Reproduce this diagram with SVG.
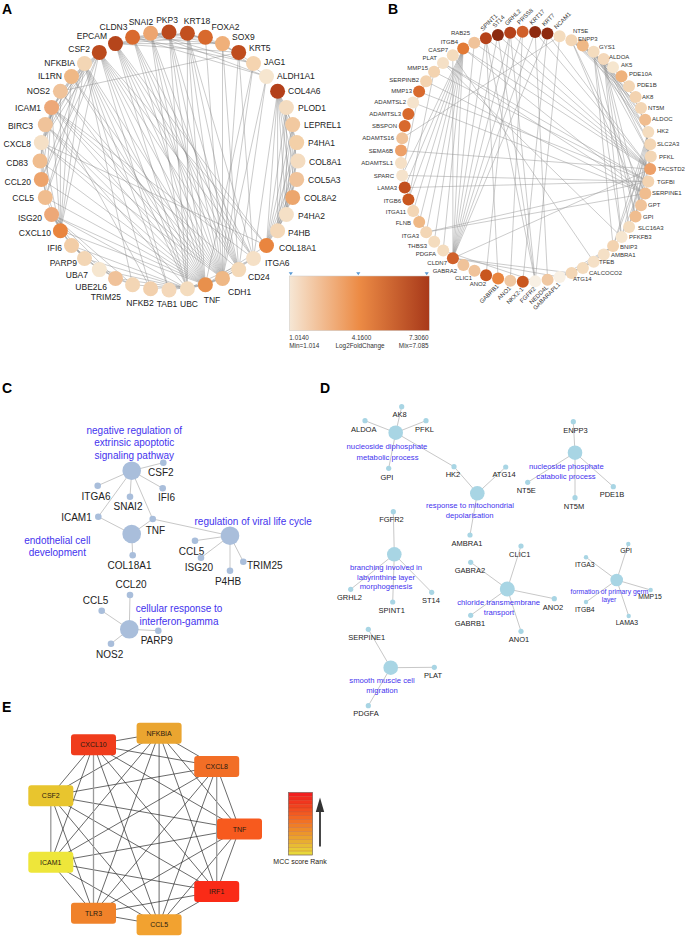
<svg xmlns="http://www.w3.org/2000/svg" width="685" height="937" viewBox="0 0 685 937">
<style>
text{font-family:"Liberation Sans",Arial,sans-serif}
.pl{font-weight:bold;font-size:14px;fill:#000}
.ta{font-size:8.5px;fill:#222}
.tb{font-size:6px;fill:#333}
.ea{stroke:#888;stroke-width:0.55;fill:none;stroke-opacity:0.8}
.eb{stroke:#999;stroke-width:0.5;fill:none}
.ec{stroke:#c8c8c8;stroke-width:1;fill:none}
.ee{stroke:#2a2a2a;stroke-width:0.7}
.eg{stroke:#9a9a9a;stroke-width:1.3}
.tc{font-size:10px;fill:#222}
.termc{font-size:10px;fill:#4433ee}
.td{font-size:7.5px;fill:#222}
.termd{font-size:7.7px;fill:#4433ee}
.tg{font-size:6.8px;fill:#222}
.termg{font-size:6.8px;fill:#4433ee}
.nc{fill:#a9bedb}
.nd{fill:#a8d5e4}
.te{font-size:7px;fill:#2a1a10}
.leg{font-size:6.4px;fill:#333}
</style>
<defs>
<linearGradient id="lfc" x1="0" x2="1" y1="0" y2="0">
<stop offset="0" stop-color="#f6e7d5"/>
<stop offset="0.5" stop-color="#ec8b45"/>
<stop offset="1" stop-color="#a8391a"/>
</linearGradient>
</defs>

<text class="pl" x="2" y="14">A</text>
<text class="pl" x="388" y="14">B</text>
<text class="pl" x="2" y="393">C</text>
<text class="pl" x="320" y="393">D</text>
<text class="pl" x="2" y="712">E</text>

<g id="edges-A" class="ea">
<path d="M205.4 284.8L99.3 52.4M205.4 284.8L84.5 63.5M205.4 284.8L71.5 76.5M205.4 284.8L60.4 91.3M205.4 284.8L51.6 107.5M205.4 284.8L45.3 124.6M205.4 284.8L41.3 142.6M205.4 284.8L40 161M205.4 284.8L41.3 179.4M205.4 284.8L45.3 197.4M205.4 284.8L60.4 230.7M205.4 284.8L51.6 214.5M205.4 284.8L187.4 288.7M205.4 284.8L169 290M205.4 284.8L150.6 288.7M205.4 284.8L222.5 278.4M205.4 284.8L150.6 33.3M205.4 284.8L115.5 43.6M205.4 284.8L132.6 37.2M205.4 284.8L253.5 63.5M205.4 284.8L238.7 269.6M205.4 284.8L253.5 258.5M205.4 284.8L266.5 245.5M205.4 284.8L187.4 33.3M205.4 284.8L169 32"/>
<path d="M222.5 278.4L115.5 43.6M222.5 278.4L132.6 37.2M222.5 278.4L150.6 33.3M222.5 278.4L169 32M222.5 278.4L187.4 33.3M222.5 278.4L205.4 37.2M222.5 278.4L222.5 43.6M222.5 278.4L238.7 52.4M222.5 278.4L253.5 63.5M222.5 278.4L253.5 258.5M222.5 278.4L99.3 52.4M222.5 278.4L84.5 63.5M222.5 278.4L51.6 107.5M222.5 278.4L266.5 76.5M222.5 278.4L187.4 288.7M222.5 278.4L41.3 142.6M222.5 278.4L71.5 76.5M222.5 278.4L60.4 91.3M222.5 278.4L45.3 124.6"/>
<path d="M238.7 269.6L115.5 43.6M238.7 269.6L187.4 33.3M238.7 269.6L222.5 43.6M238.7 269.6L132.6 37.2M238.7 269.6L266.5 76.5M238.7 269.6L51.6 107.5M238.7 269.6L99.3 52.4M238.7 269.6L169 32M238.7 269.6L150.6 33.3"/>
<path d="M187.4 288.7L115.5 278.4M187.4 288.7L99.3 269.6M187.4 288.7L132.6 284.8M187.4 288.7L84.5 258.5M187.4 288.7L84.5 63.5M187.4 288.7L45.3 124.6M187.4 288.7L51.6 214.5M187.4 288.7L115.5 43.6M187.4 288.7L169 32M187.4 288.7L187.4 33.3M187.4 288.7L150.6 33.3M187.4 288.7L99.3 52.4M187.4 288.7L253.5 258.5M187.4 288.7L71.5 245.5"/>
<path d="M253.5 258.5L115.5 43.6M253.5 258.5L99.3 52.4M253.5 258.5L132.6 37.2M253.5 258.5L238.7 52.4M253.5 258.5L277.6 91.3M253.5 258.5L51.6 107.5M253.5 258.5L187.4 33.3"/>
<path d="M99.3 52.4L51.6 107.5M99.3 52.4L41.3 142.6M99.3 52.4L41.3 179.4M99.3 52.4L45.3 197.4M99.3 52.4L60.4 230.7M99.3 52.4L60.4 91.3M99.3 52.4L71.5 76.5M99.3 52.4L45.3 124.6M99.3 52.4L266.5 245.5M99.3 52.4L169 290"/>
<path d="M51.6 107.5L41.3 142.6M51.6 107.5L45.3 197.4M51.6 107.5L41.3 179.4M51.6 107.5L60.4 230.7M51.6 107.5L84.5 63.5M51.6 107.5L71.5 76.5M51.6 107.5L40 161M51.6 107.5L150.6 288.7"/>
<path d="M41.3 142.6L41.3 179.4M41.3 142.6L45.3 197.4M41.3 142.6L60.4 230.7M41.3 142.6L84.5 63.5M41.3 142.6L71.5 76.5M41.3 142.6L60.4 91.3M41.3 142.6L266.5 245.5"/>
<path d="M60.4 230.7L45.3 197.4M60.4 230.7L41.3 179.4M60.4 230.7L51.6 214.5M60.4 230.7L71.5 245.5M60.4 230.7L60.4 91.3M60.4 230.7L71.5 76.5M60.4 230.7L84.5 63.5M60.4 230.7L84.5 258.5"/>
<path d="M84.5 63.5L169 290M84.5 63.5L150.6 288.7M84.5 63.5L45.3 124.6M84.5 63.5L41.3 179.4M84.5 63.5L45.3 197.4M84.5 63.5L132.6 284.8"/>
<path d="M115.5 43.6L187.4 33.3M115.5 43.6L169 32M115.5 43.6L238.7 52.4M115.5 43.6L222.5 43.6M115.5 43.6L205.4 37.2M115.5 43.6L266.5 245.5M187.4 33.3L238.7 52.4M187.4 33.3L132.6 37.2M187.4 33.3L222.5 43.6M222.5 43.6L253.5 63.5M222.5 43.6L266.5 76.5M222.5 43.6L132.6 37.2M222.5 43.6L150.6 33.3M132.6 37.2L253.5 63.5M132.6 37.2L266.5 76.5M132.6 37.2L169 32M150.6 33.3L253.5 63.5M150.6 33.3L266.5 76.5M150.6 33.3L205.4 37.2M60.4 91.3L238.7 52.4"/>
<path d="M277.6 91.3L277.6 230.7M277.6 91.3L286.4 107.5M277.6 91.3L292.7 124.6M277.6 91.3L296.7 142.6M277.6 91.3L298 161M277.6 91.3L296.7 179.4M277.6 91.3L292.7 197.4M277.6 91.3L286.4 214.5M277.6 91.3L266.5 245.5M277.6 230.7L286.4 107.5M277.6 230.7L292.7 124.6M277.6 230.7L296.7 142.6M277.6 230.7L298 161M277.6 230.7L296.7 179.4M277.6 230.7L292.7 197.4M266.5 245.5L298 161M266.5 245.5L296.7 179.4M266.5 245.5L292.7 197.4M266.5 245.5L286.4 107.5M266.5 245.5L292.7 124.6M266.5 245.5L296.7 142.6M266.5 245.5L286.4 214.5M296.7 142.6L286.4 214.5M296.7 142.6L286.4 107.5M286.4 107.5L286.4 214.5M292.7 124.6L286.4 214.5M292.7 124.6L292.7 197.4"/>
<path d="M71.5 245.5L51.6 214.5M71.5 245.5L84.5 258.5M71.5 245.5L99.3 269.6M71.5 245.5L115.5 278.4M51.6 214.5L84.5 258.5M51.6 214.5L115.5 278.4M51.6 214.5L132.6 284.8M84.5 258.5L115.5 278.4M84.5 258.5L99.3 269.6M132.6 284.8L99.3 269.6M132.6 284.8L115.5 278.4"/>
</g>

<g id="nodes-A">
<g id="a-PKP3"><circle cx="169" cy="32" r="7.5" fill="#bb4a1d"/><text class="ta" x="167" y="23" text-anchor="middle">PKP3</text></g>
<g id="a-KRT18"><circle cx="187.4" cy="33.3" r="7.5" fill="#c2501f"/><text class="ta" x="197" y="24" text-anchor="middle">KRT18</text></g>
<g id="a-FOXA2"><circle cx="205.4" cy="37.2" r="7.5" fill="#d8692d"/><text class="ta" x="225.5" y="30" text-anchor="middle">FOXA2</text></g>
<g id="a-SOX9"><circle cx="222.5" cy="43.6" r="7.5" fill="#f0b07a"/><text class="ta" x="232" y="40">SOX9</text></g>
<g id="a-KRT5"><circle cx="238.7" cy="52.4" r="7.5" fill="#bf4c1e"/><text class="ta" x="249" y="51">KRT5</text></g>
<g id="a-JAG1"><circle cx="253.5" cy="63.5" r="7.5" fill="#f5d4b0"/><text class="ta" x="264" y="65">JAG1</text></g>
<g id="a-ALDH1A1"><circle cx="266.5" cy="76.5" r="7.5" fill="#f6e6cf"/><text class="ta" x="277" y="79">ALDH1A1</text></g>
<g id="a-COL4A6"><circle cx="277.6" cy="91.3" r="7.5" fill="#b3401a"/><text class="ta" x="288" y="94">COL4A6</text></g>
<g id="a-PLOD1"><circle cx="286.4" cy="107.5" r="7.5" fill="#f4dcc0"/><text class="ta" x="298" y="111">PLOD1</text></g>
<g id="a-LEPREL1"><circle cx="292.7" cy="124.6" r="7.5" fill="#f2c9a0"/><text class="ta" x="304" y="128">LEPREL1</text></g>
<g id="a-P4HA1"><circle cx="296.7" cy="142.6" r="7.5" fill="#f3d0a8"/><text class="ta" x="308" y="146">P4HA1</text></g>
<g id="a-COL8A1"><circle cx="298" cy="161" r="7.5" fill="#f4dcc0"/><text class="ta" x="309" y="164.5">COL8A1</text></g>
<g id="a-COL5A3"><circle cx="296.7" cy="179.4" r="7.5" fill="#f0c39a"/><text class="ta" x="308" y="183">COL5A3</text></g>
<g id="a-COL8A2"><circle cx="292.7" cy="197.4" r="7.5" fill="#eca66d"/><text class="ta" x="304" y="201">COL8A2</text></g>
<g id="a-P4HA2"><circle cx="286.4" cy="214.5" r="7.5" fill="#f5e0c6"/><text class="ta" x="298" y="218.5">P4HA2</text></g>
<g id="a-P4HB"><circle cx="277.6" cy="230.7" r="7.5" fill="#f4d8b8"/><text class="ta" x="288" y="236">P4HB</text></g>
<g id="a-COL18A1"><circle cx="266.5" cy="245.5" r="7.5" fill="#e9853f"/><text class="ta" x="279" y="250.5">COL18A1</text></g>
<g id="a-ITGA6"><circle cx="253.5" cy="258.5" r="7.5" fill="#f5e0c6"/><text class="ta" x="265" y="265.5">ITGA6</text></g>
<g id="a-CD24"><circle cx="238.7" cy="269.6" r="7.5" fill="#f4d9b8"/><text class="ta" x="248" y="280">CD24</text></g>
<g id="a-CDH1"><circle cx="222.5" cy="278.4" r="7.5" fill="#efb885"/><text class="ta" x="228" y="295">CDH1</text></g>
<g id="a-TNF"><circle cx="205.4" cy="284.8" r="7.5" fill="#e8904c"/><text class="ta" x="212" y="303" text-anchor="middle">TNF</text></g>
<g id="a-UBC"><circle cx="187.4" cy="288.7" r="7.5" fill="#f4dcbe"/><text class="ta" x="189" y="307" text-anchor="middle">UBC</text></g>
<g id="a-TAB1"><circle cx="169" cy="290" r="7.5" fill="#f4d8ba"/><text class="ta" x="167" y="307" text-anchor="middle">TAB1</text></g>
<g id="a-NFKB2"><circle cx="150.6" cy="288.7" r="7.5" fill="#f2d0ad"/><text class="ta" x="140" y="306" text-anchor="middle">NFKB2</text></g>
<g id="a-TRIM25"><circle cx="132.6" cy="284.8" r="7.5" fill="#f3d6b5"/><text class="ta" x="121" y="300" text-anchor="end">TRIM25</text></g>
<g id="a-UBE2L6"><circle cx="115.5" cy="278.4" r="7.5" fill="#f0c29a"/><text class="ta" x="107" y="290" text-anchor="end">UBE2L6</text></g>
<g id="a-UBA7"><circle cx="99.3" cy="269.6" r="7.5" fill="#f6e6cf"/><text class="ta" x="88" y="278" text-anchor="end">UBA7</text></g>
<g id="a-PARP9"><circle cx="84.5" cy="258.5" r="7.5" fill="#f3d6b5"/><text class="ta" x="77" y="266" text-anchor="end">PARP9</text></g>
<g id="a-IFI6"><circle cx="71.5" cy="245.5" r="7.5" fill="#f2cda6"/><text class="ta" x="62" y="251" text-anchor="end">IFI6</text></g>
<g id="a-CXCL10"><circle cx="60.4" cy="230.7" r="7.5" fill="#e9853f"/><text class="ta" x="51" y="236" text-anchor="end">CXCL10</text></g>
<g id="a-ISG20"><circle cx="51.6" cy="214.5" r="7.5" fill="#eda878"/><text class="ta" x="42" y="221" text-anchor="end">ISG20</text></g>
<g id="a-CCL5"><circle cx="45.3" cy="197.4" r="7.5" fill="#f0bd8f"/><text class="ta" x="34" y="201" text-anchor="end">CCL5</text></g>
<g id="a-CCL20"><circle cx="41.3" cy="179.4" r="7.5" fill="#eda46c"/><text class="ta" x="31" y="185" text-anchor="end">CCL20</text></g>
<g id="a-CD83"><circle cx="40" cy="161" r="7.5" fill="#f0bd8f"/><text class="ta" x="28" y="166" text-anchor="end">CD83</text></g>
<g id="a-CXCL8"><circle cx="41.3" cy="142.6" r="7.5" fill="#f5e0c6"/><text class="ta" x="31" y="147" text-anchor="end">CXCL8</text></g>
<g id="a-BIRC3"><circle cx="45.3" cy="124.6" r="7.5" fill="#f0c39a"/><text class="ta" x="33" y="129" text-anchor="end">BIRC3</text></g>
<g id="a-ICAM1"><circle cx="51.6" cy="107.5" r="7.5" fill="#eda878"/><text class="ta" x="41" y="111" text-anchor="end">ICAM1</text></g>
<g id="a-NOS2"><circle cx="60.4" cy="91.3" r="7.5" fill="#f0c39a"/><text class="ta" x="50" y="94" text-anchor="end">NOS2</text></g>
<g id="a-IL1RN"><circle cx="71.5" cy="76.5" r="7.5" fill="#efb885"/><text class="ta" x="62" y="79" text-anchor="end">IL1RN</text></g>
<g id="a-NFKBIA"><circle cx="84.5" cy="63.5" r="7.5" fill="#f3d6b5"/><text class="ta" x="75" y="66" text-anchor="end">NFKBIA</text></g>
<g id="a-CSF2"><circle cx="99.3" cy="52.4" r="7.5" fill="#bb4a1d"/><text class="ta" x="90" y="52" text-anchor="end">CSF2</text></g>
<g id="a-EPCAM"><circle cx="115.5" cy="43.6" r="7.5" fill="#b5451b"/><text class="ta" x="107" y="39" text-anchor="end">EPCAM</text></g>
<g id="a-CLDN3"><circle cx="132.6" cy="37.2" r="7.5" fill="#d96a2e"/><text class="ta" x="113.5" y="30" text-anchor="middle">CLDN3</text></g>
<g id="a-SNAI2"><circle cx="150.6" cy="33.3" r="7.5" fill="#eda56f"/><text class="ta" x="141" y="25" text-anchor="middle">SNAI2</text></g>
</g>

<g id="edges-B" class="eb">
<path d="M463.2 48.5L426.2 232.2M463.2 48.5L404.7 187.6M463.2 48.5L408.4 199.5M463.2 48.5L419.2 222M463.2 48.5L434.2 241.8M463.2 48.5L452.9 258.2M463.2 48.5L413.2 211M463.2 48.5L650.2 169.1M463.2 48.5L443.2 250.5M463.2 48.5L402.2 175.4M463.2 48.5L645.3 193.5"/>
<path d="M452.9 258.2L485.9 38.2M452.9 258.2L497.9 34.9M452.9 258.2L510.2 32.7M452.9 258.2L522.6 31.7M452.9 258.2L535.1 32M452.9 258.2L547.4 33.6M452.9 258.2L474.3 42.8M452.9 258.2L650.2 169.1M452.9 258.2L452.8 55.3M452.9 258.2L559.7 277M452.9 258.2L571.6 273"/>
<path d="M650.2 169.1L485.9 38.2M650.2 169.1L497.9 34.9M650.2 169.1L510.2 32.7M650.2 169.1L547.4 33.6M650.2 169.1L535.1 32M650.2 169.1L474.3 42.8"/>
<path d="M535.2 281.3L510.2 32.7M535.2 281.3L497.9 34.9M535.2 281.3L485.9 38.2M535.2 281.3L443.2 250.5M535.2 281.3L559.6 36.3M522.8 281.7L547.4 33.6M510.3 280.7L522.6 31.7M547.6 279.8L535.1 32M498.1 278.6L485.9 38.2M486.1 275.2L510.2 32.7"/>
<path d="M402.2 175.4L648.3 181.4M402.2 175.4L419.1 91.6M426.2 232.2L648.3 181.4M426.2 232.2L645.3 193.5M426.2 232.2L404.7 187.6M443 63L645.3 193.5M443 63L426.1 81.3M443 63L419.1 91.6M443 63L648.3 181.4M426.1 81.3L645.3 193.5M419.1 91.6L648.3 181.4M434.1 71.7L648.3 181.4M434.1 71.7L408.4 199.5M559.6 36.3L402.2 138.2M621.6 237L443 63M452.8 55.3L593.7 261.7M645.3 193.5L648.3 181.4M413.1 102.5L645.3 193.5M401 150.5L650.2 169.1M404.7 187.6L648.3 181.4"/>
<path d="M603.7 58.9L648.3 131.9M603.7 58.9L650.8 156.6M603.7 58.9L635.6 216.4M603.7 58.9L645.2 119.8M603.7 58.9L650.2 144.2M603.7 58.9L621.6 237M603.7 58.9L641 205.2M603.7 58.9L629.1 227.1M593.6 51.7L648.3 131.9M593.6 51.7L650.8 156.6M593.6 51.7L635.6 216.4M593.6 51.7L645.2 119.8M593.6 51.7L621.6 237M593.6 51.7L650.2 144.2M593.6 51.7L613.1 246.1"/>
<path d="M582.8 45.4L571.4 40.3M582.8 45.4L629 86.2M582.8 45.4L621.5 76.3M582.8 45.4L641 108.1M582.8 45.4L613 67.2M582.8 45.4L635.6 96.9M582.8 45.4L648.3 131.9M571.4 40.3L641 108.1M571.4 40.3L629 86.2M571.4 40.3L613 67.2M571.4 40.3L635.6 96.9M571.4 40.3L641 205.2M571.4 40.3L645.3 193.5"/>
<path d="M648.3 131.9L635.6 216.4M648.3 131.9L621.6 237M648.3 131.9L629.1 227.1M648.3 131.9L613.1 246.1M648.3 131.9L641 205.2M650.8 156.6L635.6 216.4M650.8 156.6L621.6 237M650.8 156.6L641 205.2M650.2 144.2L635.6 216.4M650.2 144.2L629.1 227.1M650.2 144.2L613.1 246.1"/>
<path d="M613.1 246.1L603.8 254.4M613.1 246.1L593.7 261.7M613.1 246.1L582.9 267.9M613.1 246.1L571.6 273M613.1 246.1L559.7 277M613.1 246.1L629.1 227.1M571.6 273L603.8 254.4M571.6 273L593.7 261.7M571.6 273L559.7 277M593.7 261.7L559.7 277M593.7 261.7L582.9 267.9"/>
</g>

<g id="nodes-B">
<g id="b-SPINT1"><circle cx="485.9" cy="38.2" r="6" fill="#b5421a"/><text class="tb" x="482.9" y="31.2" transform="rotate(-45 482.9 31.2)">SPINT1</text></g>
<g id="b-ST14"><circle cx="497.9" cy="34.9" r="6" fill="#8b2a10"/><text class="tb" x="494.9" y="27.9" transform="rotate(-45 494.9 27.9)">ST14</text></g>
<g id="b-GRHL2"><circle cx="510.2" cy="32.7" r="6" fill="#b5421a"/><text class="tb" x="507.2" y="25.7" transform="rotate(-45 507.2 25.7)">GRHL2</text></g>
<g id="b-PRSS8"><circle cx="522.6" cy="31.7" r="6" fill="#d0602a"/><text class="tb" x="519.6" y="24.7" transform="rotate(-45 519.6 24.7)">PRSS8</text></g>
<g id="b-KRT17"><circle cx="535.1" cy="32" r="6" fill="#8e2a10"/><text class="tb" x="532.1" y="25" transform="rotate(-45 532.1 25)">KRT17</text></g>
<g id="b-KRT7"><circle cx="547.4" cy="33.6" r="6" fill="#8e2a10"/><text class="tb" x="544.4" y="26.6" transform="rotate(-45 544.4 26.6)">KRT7</text></g>
<g id="b-NCAM1"><circle cx="559.6" cy="36.3" r="6" fill="#f4dcbe"/><text class="tb" x="556.6" y="29.3" transform="rotate(-45 556.6 29.3)">NCAM1</text></g>
<g id="b-NT5E"><circle cx="571.4" cy="40.3" r="6" fill="#f3d6b5"/><text class="tb" x="573" y="33">NT5E</text></g>
<g id="b-ENPP3"><circle cx="582.8" cy="45.4" r="6" fill="#efb885"/><text class="tb" x="578" y="40.5">ENPP3</text></g>
<g id="b-GYS1"><circle cx="593.6" cy="51.7" r="6" fill="#f4dcbe"/><text class="tb" x="599" y="49">GYS1</text></g>
<g id="b-ALDOA"><circle cx="603.7" cy="58.9" r="6" fill="#f4d8ba"/><text class="tb" x="609" y="59">ALDOA</text></g>
<g id="b-AK5"><circle cx="613" cy="67.2" r="6" fill="#f6e6cf"/><text class="tb" x="621" y="67">AK5</text></g>
<g id="b-PDE10A"><circle cx="621.5" cy="76.3" r="6" fill="#efb27c"/><text class="tb" x="629" y="76">PDE10A</text></g>
<g id="b-PDE1B"><circle cx="629" cy="86.2" r="6" fill="#f3d6b5"/><text class="tb" x="637" y="87">PDE1B</text></g>
<g id="b-AK8"><circle cx="635.6" cy="96.9" r="6" fill="#f3d3b0"/><text class="tb" x="642" y="99">AK8</text></g>
<g id="b-NT5M"><circle cx="641" cy="108.1" r="6" fill="#f3d6b5"/><text class="tb" x="648" y="109.5">NT5M</text></g>
<g id="b-ALDOC"><circle cx="645.2" cy="119.8" r="6" fill="#f0bd8f"/><text class="tb" x="652" y="121">ALDOC</text></g>
<g id="b-HK2"><circle cx="648.3" cy="131.9" r="6" fill="#f4dcbe"/><text class="tb" x="657" y="133">HK2</text></g>
<g id="b-SLC2A3"><circle cx="650.2" cy="144.2" r="6" fill="#f3d6b5"/><text class="tb" x="657" y="146">SLC2A3</text></g>
<g id="b-PFKL"><circle cx="650.8" cy="156.6" r="6" fill="#f3d6b5"/><text class="tb" x="659" y="159">PFKL</text></g>
<g id="b-TACSTD2"><circle cx="650.2" cy="169.1" r="6" fill="#eda068"/><text class="tb" x="658" y="171">TACSTD2</text></g>
<g id="b-TGFBI"><circle cx="648.3" cy="181.4" r="6" fill="#f3d3b0"/><text class="tb" x="657" y="184">TGFBI</text></g>
<g id="b-SERPINE1"><circle cx="645.3" cy="193.5" r="6" fill="#f0bd8f"/><text class="tb" x="652" y="195">SERPINE1</text></g>
<g id="b-GPT"><circle cx="641" cy="205.2" r="6" fill="#f0c39a"/><text class="tb" x="648" y="207">GPT</text></g>
<g id="b-GPI"><circle cx="635.6" cy="216.4" r="6" fill="#f0bd8f"/><text class="tb" x="643" y="219">GPI</text></g>
<g id="b-SLC16A3"><circle cx="629.1" cy="227.1" r="6" fill="#f4dcbe"/><text class="tb" x="638" y="230">SLC16A3</text></g>
<g id="b-PFKFB3"><circle cx="621.6" cy="237" r="6" fill="#f6e6cf"/><text class="tb" x="629" y="239">PFKFB3</text></g>
<g id="b-BNIP3"><circle cx="613.1" cy="246.1" r="6" fill="#f3d3b0"/><text class="tb" x="620" y="249">BNIP3</text></g>
<g id="b-AMBRA1"><circle cx="603.8" cy="254.4" r="6" fill="#f5e0c6"/><text class="tb" x="611" y="257">AMBRA1</text></g>
<g id="b-TFEB"><circle cx="593.7" cy="261.7" r="6" fill="#f5e0c6"/><text class="tb" x="599" y="264">TFEB</text></g>
<g id="b-CALCOCO2"><circle cx="582.9" cy="267.9" r="6" fill="#f4dcbe"/><text class="tb" x="589" y="275">CALCOCO2</text></g>
<g id="b-ATG14"><circle cx="571.6" cy="273" r="6" fill="#f3d6b5"/><text class="tb" x="573" y="281">ATG14</text></g>
<g id="b-GABARAPL1"><circle cx="559.7" cy="277" r="6" fill="#f8f0e4"/><text class="tb" x="560.7" y="285" text-anchor="end" transform="rotate(-45 560.7 285)">GABARAPL1</text></g>
<g id="b-NEDD4L"><circle cx="547.6" cy="279.8" r="6" fill="#f0c8a2"/><text class="tb" x="548.6" y="287.8" text-anchor="end" transform="rotate(-45 548.6 287.8)">NEDD4L</text></g>
<g id="b-FGFR2"><circle cx="535.2" cy="281.3" r="6" fill="#f8f0e4"/><text class="tb" x="536.2" y="289.3" text-anchor="end" transform="rotate(-45 536.2 289.3)">FGFR2</text></g>
<g id="b-NKX2-1"><circle cx="522.8" cy="281.7" r="6" fill="#c9571f"/><text class="tb" x="523.8" y="289.7" text-anchor="end" transform="rotate(-45 523.8 289.7)">NKX2-1</text></g>
<g id="b-ANO1"><circle cx="510.3" cy="280.7" r="6" fill="#f0c8a2"/><text class="tb" x="511.3" y="288.7" text-anchor="end" transform="rotate(-45 511.3 288.7)">ANO1</text></g>
<g id="b-GABRB1"><circle cx="498.1" cy="278.6" r="6" fill="#e9853f"/><text class="tb" x="499.1" y="286.6" text-anchor="end" transform="rotate(-45 499.1 286.6)">GABRB1</text></g>
<g id="b-ANO2"><circle cx="486.1" cy="275.2" r="6" fill="#c9571f"/><text class="tb" x="486" y="286" text-anchor="end">ANO2</text></g>
<g id="b-CLIC1"><circle cx="474.5" cy="270.7" r="6" fill="#f0c39a"/><text class="tb" x="472" y="280" text-anchor="end">CLIC1</text></g>
<g id="b-GABRA2"><circle cx="463.4" cy="265" r="6" fill="#f0c39a"/><text class="tb" x="457" y="273" text-anchor="end">GABRA2</text></g>
<g id="b-CLDN7"><circle cx="452.9" cy="258.2" r="6" fill="#d0602a"/><text class="tb" x="447" y="265" text-anchor="end">CLDN7</text></g>
<g id="b-PDGFA"><circle cx="443.2" cy="250.5" r="6" fill="#f4dcbe"/><text class="tb" x="436" y="256" text-anchor="end">PDGFA</text></g>
<g id="b-THBS3"><circle cx="434.2" cy="241.8" r="6" fill="#f4dcbe"/><text class="tb" x="427" y="248" text-anchor="end">THBS3</text></g>
<g id="b-ITGA3"><circle cx="426.2" cy="232.2" r="6" fill="#f3d6b5"/><text class="tb" x="419" y="238" text-anchor="end">ITGA3</text></g>
<g id="b-FLNB"><circle cx="419.2" cy="222" r="6" fill="#efb885"/><text class="tb" x="411" y="225" text-anchor="end">FLNB</text></g>
<g id="b-ITGA11"><circle cx="413.2" cy="211" r="6" fill="#f3d6b5"/><text class="tb" x="406" y="214" text-anchor="end">ITGA11</text></g>
<g id="b-ITGB6"><circle cx="408.4" cy="199.5" r="6" fill="#c9571f"/><text class="tb" x="401" y="203" text-anchor="end">ITGB6</text></g>
<g id="b-LAMA3"><circle cx="404.7" cy="187.6" r="6" fill="#c2501f"/><text class="tb" x="397" y="190" text-anchor="end">LAMA3</text></g>
<g id="b-SPARC"><circle cx="402.2" cy="175.4" r="6" fill="#f5e3cc"/><text class="tb" x="394" y="177.5" text-anchor="end">SPARC</text></g>
<g id="b-ADAMTSL1"><circle cx="401" cy="163" r="6" fill="#f5e0c6"/><text class="tb" x="393" y="165" text-anchor="end">ADAMTSL1</text></g>
<g id="b-SEMA6B"><circle cx="401" cy="150.5" r="6" fill="#eda068"/><text class="tb" x="393" y="152.5" text-anchor="end">SEMA6B</text></g>
<g id="b-ADAMTS16"><circle cx="402.2" cy="138.2" r="6" fill="#f0c39a"/><text class="tb" x="394" y="140" text-anchor="end">ADAMTS16</text></g>
<g id="b-SBSPON"><circle cx="404.7" cy="125.9" r="6" fill="#d8692d"/><text class="tb" x="397" y="128" text-anchor="end">SBSPON</text></g>
<g id="b-ADAMTSL3"><circle cx="408.3" cy="114" r="6" fill="#d8692d"/><text class="tb" x="401" y="115.5" text-anchor="end">ADAMTSL3</text></g>
<g id="b-ADAMTSL2"><circle cx="413.1" cy="102.5" r="6" fill="#f5e3cc"/><text class="tb" x="406" y="104" text-anchor="end">ADAMTSL2</text></g>
<g id="b-MMP13"><circle cx="419.1" cy="91.6" r="6" fill="#d8692d"/><text class="tb" x="412" y="93" text-anchor="end">MMP13</text></g>
<g id="b-SERPINB2"><circle cx="426.1" cy="81.3" r="6" fill="#f3d3b0"/><text class="tb" x="419" y="82" text-anchor="end">SERPINB2</text></g>
<g id="b-MMP15"><circle cx="434.1" cy="71.7" r="6" fill="#f3d3b0"/><text class="tb" x="428" y="70" text-anchor="end">MMP15</text></g>
<g id="b-PLAT"><circle cx="443" cy="63" r="6" fill="#f5e0c6"/><text class="tb" x="437" y="60" text-anchor="end">PLAT</text></g>
<g id="b-CASP7"><circle cx="452.8" cy="55.3" r="6" fill="#f4dcbe"/><text class="tb" x="448" y="52" text-anchor="end">CASP7</text></g>
<g id="b-ITGB4"><circle cx="463.2" cy="48.5" r="6" fill="#e27a35"/><text class="tb" x="458" y="44" text-anchor="end">ITGB4</text></g>
<g id="b-RAB25"><circle cx="474.3" cy="42.8" r="6" fill="#f0c39a"/><text class="tb" x="470" y="35" text-anchor="end">RAB25</text></g>
</g>

<g id="legend-B">
<rect x="289.3" y="276" width="140" height="54.7" fill="url(#lfc)" stroke="#ccc" stroke-width="0.5"/>
<path d="M288.7 272.3h4.2l-2.1 3z M356.2 272.3h4.2l-2.1 3z M424.6 272.3h4.2l-2.1 3z" fill="#5b9bd5"/>
<text class="leg" x="289.3" y="339.5">1.0140</text>
<text class="leg" x="361.5" y="339.5" text-anchor="middle">4.1600</text>
<text class="leg" x="428.5" y="339.5" text-anchor="end">7.3060</text>
<text class="leg" x="289.3" y="348">Min=1.014</text>
<text class="leg" x="360" y="348" text-anchor="middle">Log2FoldChange</text>
<text class="leg" x="428.5" y="348" text-anchor="end">Mix=7.085</text>
</g>

<g id="edges-C" class="ec">
<path d="M131.7 470.7L163.3 462.7M131.7 470.7L97.7 485.7M131.7 470.7L130 496.7M131.7 470.7L162.7 488.3M131.7 470.7L98.3 516.7M131.7 470.7L152.7 519M131.7 534L98.3 516.7M131.7 534L152.7 519M131.7 534L132.7 555.3M230 535.7L152.7 519M230 535.7L195 540.7M230 535.7L201 557.7M230 535.7L243.3 561.7M230 535.7L230 570.7M129.3 629.3L130 595M129.3 629.3L101.7 610.7M129.3 629.3L158.3 630.7M129.3 629.3L111 643.7"/>
</g>
<g id="nodes-C">
<g id="c-apoptotic"><circle class="nc" cx="131.7" cy="470.7" r="9.3"/><text class="termc" text-anchor="middle"><tspan x="134.3" y="434">negative regulation of</tspan><tspan x="134.3" y="446.3">extrinsic apoptotic</tspan><tspan x="134.3" y="458.7">signaling pathway</tspan></text></g>
<g id="c-CSF2"><circle class="nc" cx="163.3" cy="462.7" r="3.3"/><text class="tc" x="148" y="476">CSF2</text></g>
<g id="c-ITGA6"><circle class="nc" cx="97.7" cy="485.7" r="3.3"/><text class="tc" x="96" y="499.5" text-anchor="middle">ITGA6</text></g>
<g id="c-SNAI2"><circle class="nc" cx="130" cy="496.7" r="3.3"/><text class="tc" x="128" y="510" text-anchor="middle">SNAI2</text></g>
<g id="c-IFI6"><circle class="nc" cx="162.7" cy="488.3" r="3.3"/><text class="tc" x="166.5" y="501" text-anchor="middle">IFI6</text></g>
<g id="c-ICAM1"><circle class="nc" cx="98.3" cy="516.7" r="3.3"/><text class="tc" x="91.7" y="521" text-anchor="end">ICAM1</text></g>
<g id="c-TNF"><circle class="nc" cx="152.7" cy="519" r="3.3"/><text class="tc" x="145.7" y="534">TNF</text></g>
<g id="c-endothelial"><circle class="nc" cx="131.7" cy="534" r="9.3"/><text class="termc" text-anchor="middle"><tspan x="57.3" y="543.5">endothelial cell</tspan><tspan x="57.3" y="556">development</tspan></text></g>
<g id="c-COL18A1"><circle class="nc" cx="132.7" cy="555.3" r="3.3"/><text class="tc" x="129.5" y="568.5" text-anchor="middle">COL18A1</text></g>
<g id="c-viral"><circle class="nc" cx="230" cy="535.7" r="9.3"/><text class="termc" x="194.5" y="524.5">regulation of viral life cycle</text></g>
<g id="c-CCL5a"><circle class="nc" cx="195" cy="540.7" r="3.3"/><text class="tc" x="191.5" y="555" text-anchor="middle">CCL5</text></g>
<g id="c-ISG20"><circle class="nc" cx="201" cy="557.7" r="3.3"/><text class="tc" x="199" y="571" text-anchor="middle">ISG20</text></g>
<g id="c-TRIM25"><circle class="nc" cx="243.3" cy="561.7" r="3.3"/><text class="tc" x="247" y="568.5">TRIM25</text></g>
<g id="c-P4HB"><circle class="nc" cx="230" cy="570.7" r="3.3"/><text class="tc" x="228" y="584.5" text-anchor="middle">P4HB</text></g>
<g id="c-interferon"><circle class="nc" cx="129.3" cy="629.3" r="9.3"/><text class="termc" text-anchor="middle"><tspan x="179" y="612">cellular response to</tspan><tspan x="179" y="624.5">interferon-gamma</tspan></text></g>
<g id="c-CCL20"><circle class="nc" cx="130" cy="595" r="3.3"/><text class="tc" x="131" y="588" text-anchor="middle">CCL20</text></g>
<g id="c-CCL5b"><circle class="nc" cx="101.7" cy="610.7" r="3.3"/><text class="tc" x="95.5" y="603.5" text-anchor="middle">CCL5</text></g>
<g id="c-PARP9"><circle class="nc" cx="158.3" cy="630.7" r="3.3"/><text class="tc" x="156.7" y="644" text-anchor="middle">PARP9</text></g>
<g id="c-NOS2"><circle class="nc" cx="111" cy="643.7" r="3.3"/><text class="tc" x="109.7" y="658" text-anchor="middle">NOS2</text></g>
</g>

<g id="edges-D" class="ec">
<path d="M395.7 432.7L401.7 406.7M395.7 432.7L365 420.7M395.7 432.7L426 420.7M395.7 432.7L388.7 468.3M395.7 432.7L454 466.7M477.3 493.3L454 466.7M477.3 493.3L505.7 467M477.3 493.3L470 535M575 452.7L573.3 421.7M575 452.7L527.7 482.3M575 452.7L575 497.7M575 452.7L613.3 486.7M394.3 554.3L393.3 511.7M394.3 554.3L350.7 589.3M394.3 554.3L392.7 602M394.3 554.3L431.7 592.3M507.3 589L521 546M507.3 589L470.7 562.3M507.3 589L554.3 598.7M507.3 589L470.7 615.3M507.3 589L521 631.3M616.7 580L628.3 544M616.7 580L586 557.3M616.7 580L650.7 590M616.7 580L586 602M616.7 580L628.7 616M390.7 667.7L368.3 629.3M390.7 667.7L434.3 667.3M390.7 667.7L368.3 705.7"/>
</g>
<g id="nodes-D">
<g id="d-diphosphate"><circle class="nd" cx="395.7" cy="432.7" r="7.3"/><text class="termd" text-anchor="middle"><tspan x="387" y="448.5">nucleoside diphosphate</tspan><tspan x="387.5" y="459.5">metabolic process</tspan></text></g>
<g id="d-AK8"><circle class="nd" cx="401.7" cy="406.7" r="2.6"/><text class="td" x="399.5" y="417" text-anchor="middle">AK8</text></g>
<g id="d-ALDOA"><circle class="nd" cx="365" cy="420.7" r="2.6"/><text class="td" x="363.7" y="432" text-anchor="middle">ALDOA</text></g>
<g id="d-PFKL"><circle class="nd" cx="426" cy="420.7" r="2.6"/><text class="td" x="424.5" y="432" text-anchor="middle">PFKL</text></g>
<g id="d-GPIa"><circle class="nd" cx="388.7" cy="468.3" r="2.6"/><text class="td" x="387" y="479.5" text-anchor="middle">GPI</text></g>
<g id="d-HK2"><circle class="nd" cx="454" cy="466.7" r="2.6"/><text class="td" x="453" y="477" text-anchor="middle">HK2</text></g>
<g id="d-mito"><circle class="nd" cx="477.3" cy="493.3" r="7.3"/><text class="termd" text-anchor="middle"><tspan x="470" y="508">response to mitochondrial</tspan><tspan x="469.7" y="517.5">depolarisation</tspan></text></g>
<g id="d-ATG14"><circle class="nd" cx="505.7" cy="467" r="2.6"/><text class="td" x="504" y="477" text-anchor="middle">ATG14</text></g>
<g id="d-AMBRA1"><circle class="nd" cx="470" cy="535" r="2.6"/><text class="td" x="467" y="545.5" text-anchor="middle">AMBRA1</text></g>
<g id="d-catabolic"><circle class="nd" cx="575" cy="452.7" r="7.3"/><text class="termd" text-anchor="middle"><tspan x="566.3" y="468.5">nucleoside phosphate</tspan><tspan x="566" y="478.5">catabolic process</tspan></text></g>
<g id="d-ENPP3"><circle class="nd" cx="573.3" cy="421.7" r="2.6"/><text class="td" x="575.5" y="433" text-anchor="middle">ENPP3</text></g>
<g id="d-NT5E"><circle class="nd" cx="527.7" cy="482.3" r="2.6"/><text class="td" x="526.3" y="493" text-anchor="middle">NT5E</text></g>
<g id="d-NT5M"><circle class="nd" cx="575" cy="497.7" r="2.6"/><text class="td" x="574" y="508.5" text-anchor="middle">NT5M</text></g>
<g id="d-PDE1B"><circle class="nd" cx="613.3" cy="486.7" r="2.6"/><text class="td" x="612" y="497" text-anchor="middle">PDE1B</text></g>
<g id="d-branching"><circle class="nd" cx="394.3" cy="554.3" r="7.3"/><text class="termd" text-anchor="middle"><tspan x="386" y="569.5">branching involved in</tspan><tspan x="386" y="579.5">labyrinthine layer</tspan><tspan x="386" y="589">morphogenesis</tspan></text></g>
<g id="d-FGFR2"><circle class="nd" cx="393.3" cy="511.7" r="2.6"/><text class="td" x="391.5" y="522" text-anchor="middle">FGFR2</text></g>
<g id="d-GRHL2"><circle class="nd" cx="350.7" cy="589.3" r="2.6"/><text class="td" x="349.5" y="600" text-anchor="middle">GRHL2</text></g>
<g id="d-SPINT1"><circle class="nd" cx="392.7" cy="602" r="2.6"/><text class="td" x="391.7" y="613" text-anchor="middle">SPINT1</text></g>
<g id="d-ST14"><circle class="nd" cx="431.7" cy="592.3" r="2.6"/><text class="td" x="431" y="603" text-anchor="middle">ST14</text></g>
<g id="d-chloride"><circle class="nd" cx="507.3" cy="589" r="7.5"/><text class="termd" text-anchor="middle"><tspan x="498.7" y="604.5">chloride transmembrane</tspan><tspan x="499" y="614.5">transport</tspan></text></g>
<g id="d-CLIC1"><circle class="nd" cx="521" cy="546" r="2.6"/><text class="td" x="519.7" y="557" text-anchor="middle">CLIC1</text></g>
<g id="d-GABRA2"><circle class="nd" cx="470.7" cy="562.3" r="2.6"/><text class="td" x="470" y="573" text-anchor="middle">GABRA2</text></g>
<g id="d-ANO2"><circle class="nd" cx="554.3" cy="598.7" r="2.6"/><text class="td" x="553" y="609.5" text-anchor="middle">ANO2</text></g>
<g id="d-GABRB1"><circle class="nd" cx="470.7" cy="615.3" r="2.6"/><text class="td" x="470" y="625.5" text-anchor="middle">GABRB1</text></g>
<g id="d-ANO1"><circle class="nd" cx="521" cy="631.3" r="2.6"/><text class="td" x="519" y="642" text-anchor="middle">ANO1</text></g>
<g id="d-germ"><circle class="nd" cx="616.7" cy="580" r="6.3"/><text class="termg" text-anchor="middle"><tspan x="609.5" y="593.5">formation of primary germ</tspan><tspan x="609" y="601.5">layer</tspan></text></g>
<g id="d-GPIb"><circle class="nd" cx="628.3" cy="544" r="2.2"/><text class="tg" x="626" y="553" text-anchor="middle">GPI</text></g>
<g id="d-ITGA3"><circle class="nd" cx="586" cy="557.3" r="2.2"/><text class="tg" x="584.7" y="567" text-anchor="middle">ITGA3</text></g>
<g id="d-MMP15"><circle class="nd" cx="650.7" cy="590" r="2.2"/><text class="tg" x="650" y="599" text-anchor="middle">MMP15</text></g>
<g id="d-ITGB4"><circle class="nd" cx="586" cy="602" r="2.2"/><text class="tg" x="584.7" y="612" text-anchor="middle">ITGB4</text></g>
<g id="d-LAMA3"><circle class="nd" cx="628.7" cy="616" r="2.2"/><text class="tg" x="627" y="625" text-anchor="middle">LAMA3</text></g>
<g id="d-smooth"><circle class="nd" cx="390.7" cy="667.7" r="7.3"/><text class="termd" text-anchor="middle"><tspan x="382" y="682.5">smooth muscle cell</tspan><tspan x="382" y="692.5">migration</tspan></text></g>
<g id="d-SERPINE1"><circle class="nd" cx="368.3" cy="629.3" r="2.6"/><text class="td" x="366.7" y="640" text-anchor="middle">SERPINE1</text></g>
<g id="d-PLAT"><circle class="nd" cx="434.3" cy="667.3" r="2.6"/><text class="td" x="433" y="678" text-anchor="middle">PLAT</text></g>
<g id="d-PDGFA"><circle class="nd" cx="368.3" cy="705.7" r="2.6"/><text class="td" x="366" y="716" text-anchor="middle">PDGFA</text></g>
</g>

<g id="edges-E" class="ee">
<path d="M159.1 733.2L93.5 744.7M159.1 733.2L216.7 766.5M159.1 733.2L50.8 795.7M159.1 733.2L239.5 829M159.1 733.2L50.8 862.3M159.1 733.2L216.7 891.5M159.1 733.2L93.5 913.3M159.1 733.2L159.1 924.8M93.5 744.7L216.7 766.5M93.5 744.7L50.8 795.7M93.5 744.7L239.5 829M93.5 744.7L50.8 862.3M93.5 744.7L216.7 891.5M93.5 744.7L159.1 924.8M216.7 766.5L50.8 795.7M216.7 766.5L239.5 829M216.7 766.5L50.8 862.3M216.7 766.5L93.5 913.3M216.7 766.5L159.1 924.8M50.8 795.7L239.5 829M50.8 795.7L216.7 891.5M50.8 795.7L93.5 913.3M50.8 795.7L159.1 924.8M239.5 829L50.8 862.3M239.5 829L216.7 891.5M239.5 829L93.5 913.3M239.5 829L159.1 924.8M50.8 862.3L216.7 891.5M50.8 862.3L93.5 913.3M50.8 862.3L159.1 924.8M216.7 891.5L93.5 913.3M216.7 891.5L159.1 924.8M93.5 913.3L159.1 924.8"/>
<path class="eg" d="M93.5 744.7L93.5 913.3M216.7 766.5L216.7 891.5M50.8 795.7L50.8 862.3"/>
</g>
<g id="nodes-E">
<g id="e-NFKBIA"><rect x="136.6" y="722.7" width="45" height="21" rx="3" fill="#eaa530"/><text class="te" x="159.1" y="735.7" text-anchor="middle">NFKBIA</text></g>
<g id="e-CXCL10"><rect x="71" y="734.2" width="45" height="21" rx="3" fill="#f03c1c"/><text class="te" x="93.5" y="747.2" text-anchor="middle">CXCL10</text></g>
<g id="e-CXCL8"><rect x="194.2" y="756" width="45" height="21" rx="3" fill="#f26e26"/><text class="te" x="216.7" y="769" text-anchor="middle">CXCL8</text></g>
<g id="e-CSF2"><rect x="28.3" y="785.2" width="45" height="21" rx="3" fill="#e8c52e"/><text class="te" x="50.8" y="798.2" text-anchor="middle">CSF2</text></g>
<g id="e-TNF"><rect x="217" y="818.5" width="45" height="21" rx="3" fill="#f75a1e"/><text class="te" x="239.5" y="831.5" text-anchor="middle">TNF</text></g>
<g id="e-ICAM1"><rect x="28.3" y="851.8" width="45" height="21" rx="3" fill="#eee63a"/><text class="te" x="50.8" y="864.8" text-anchor="middle">ICAM1</text></g>
<g id="e-IRF1"><rect x="194.2" y="881" width="45" height="21" rx="3" fill="#fa2b17"/><text class="te" x="216.7" y="894" text-anchor="middle">IRF1</text></g>
<g id="e-TLR3"><rect x="71" y="902.8" width="45" height="21" rx="3" fill="#f0822a"/><text class="te" x="93.5" y="915.8" text-anchor="middle">TLR3</text></g>
<g id="e-CCL5"><rect x="136.6" y="914.3" width="45" height="21" rx="3" fill="#f2a230"/><text class="te" x="159.1" y="927.3" text-anchor="middle">CCL5</text></g>
</g>

<g id="legend-E">
<g stroke="#b04a2a" stroke-width="0.4" stroke-opacity="0.6">
<rect x="288.3" y="792.3" width="24.4" height="3.92" fill="#f21f1f"/>
<rect x="288.3" y="796.2" width="24.4" height="3.92" fill="#f22a1e"/>
<rect x="288.3" y="800.1" width="24.4" height="3.92" fill="#f2361e"/>
<rect x="288.3" y="804.1" width="24.4" height="3.92" fill="#f2421f"/>
<rect x="288.3" y="808" width="24.4" height="3.92" fill="#f24e20"/>
<rect x="288.3" y="811.9" width="24.4" height="3.92" fill="#f25a21"/>
<rect x="288.3" y="815.8" width="24.4" height="3.92" fill="#f26622"/>
<rect x="288.3" y="819.7" width="24.4" height="3.92" fill="#f27224"/>
<rect x="288.3" y="823.7" width="24.4" height="3.92" fill="#f07e26"/>
<rect x="288.3" y="827.6" width="24.4" height="3.92" fill="#ee8a28"/>
<rect x="288.3" y="831.5" width="24.4" height="3.92" fill="#ec962a"/>
<rect x="288.3" y="835.4" width="24.4" height="3.92" fill="#eaa22d"/>
<rect x="288.3" y="839.3" width="24.4" height="3.92" fill="#e8ae30"/>
<rect x="288.3" y="843.3" width="24.4" height="3.92" fill="#e8bc33"/>
<rect x="288.3" y="847.2" width="24.4" height="3.92" fill="#e8ca36"/>
<rect x="288.3" y="851.1" width="24.4" height="3.92" fill="#e8d83a"/>
</g>
<rect x="288.3" y="792.3" width="24.4" height="62.7" fill="none" stroke="#777" stroke-width="0.6"/>
<line x1="320" y1="846.5" x2="320" y2="808" stroke="#333" stroke-width="1.8"/>
<polygon points="320,797.5 315.8,812 324.2,812" fill="#333"/>
<text class="te" x="300" y="863.5" text-anchor="middle" fill="#333">MCC score Rank</text>
</g>
</svg>
